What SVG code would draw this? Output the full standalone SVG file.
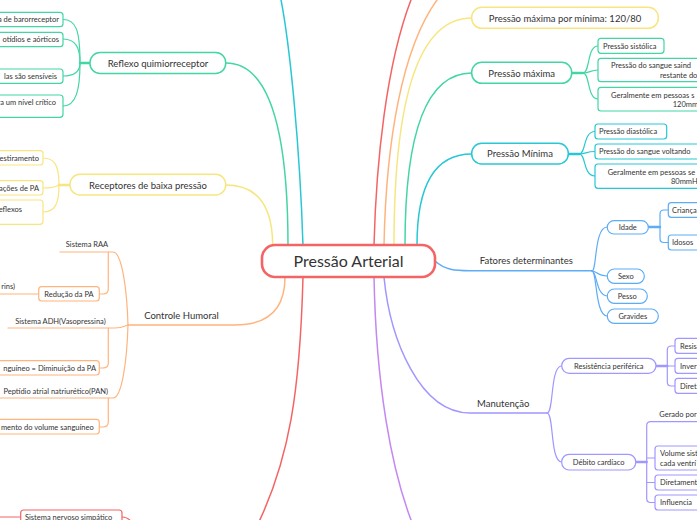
<svg xmlns="http://www.w3.org/2000/svg" width="697" height="520" viewBox="0 0 697 520">
<style>
text{font-family:Lato,"Noto Sans",sans-serif;fill:#333}
.c{font-size:16px;text-anchor:middle}
.m{font-size:9.5px;text-anchor:middle}
.s{font-size:7.5px}
.sm{font-size:7.5px;text-anchor:middle}
.se{font-size:7.5px;text-anchor:end}
.n{fill:#fff}
.l{fill:none;stroke-linecap:round}
.red{stroke:#f46464}.grn{stroke:#43d6a4}.yel{stroke:#f7e680}.org{stroke:#ffb47e}.cya{stroke:#27c7d5}.blu{stroke:#5eacf6}.vio{stroke:#a097ff}.pur{stroke:#c488f0}
.w1{stroke-width:1.5}.w2{stroke-width:1.2}.w3{stroke-width:2.4}
</style>
<rect width="697" height="520" fill="#fff"/>
<g id="connectors">
<path class="l grn w1" d="M288,246 Q288,63 226,63"/>
<path class="l yel w1" d="M272.7,246 Q272.7,185 226,185"/>
<path class="l cya w1" d="M303,246 C300,150 290,40 279,-10"/>
<path class="l org w1" d="M285,277 Q285,325 235,325 L128,325"/>
<path class="l red w1" d="M303,277 C300,390 290,460 255,530"/>
<path class="l red w1" d="M374,245 C376,170 385,60 415,-10"/>
<path class="l org w1" d="M384,245 C386,150 400,40 445,-10"/>
<path class="l yel w1" d="M394,245 Q394,18 471.7,18"/>
<path class="l grn w1" d="M405,245 Q405,73 471.7,73"/>
<path class="l cya w1" d="M417,245 Q417,154 471.7,154"/>
<path class="l blu w1" d="M435,261 C445,270 455,270.7 470,270.7 L592,270.7"/>
<path class="l vio w1" d="M384,277 C390,340 420,413 470,413 L547,413"/>
<path class="l pur w1" d="M374,277 C376,380 390,470 415,530"/>
<path class="l grn w3" d="M80,63 L90,63"/>
<path class="l grn w2" d="M80,63 C80,30 76,19.5 63,19.5"/>
<path class="l grn w2" d="M80,63 C80,48 76,39 63,39"/>
<path class="l grn w2" d="M80,63 C80,70 76,76 63,76"/>
<path class="l grn w2" d="M80,63 C80,90 76,106 63,106"/>
<path class="l yel w3" d="M59,185 L70,185"/>
<path class="l yel w2" d="M59,185 C59,166 55,158 43,158"/>
<path class="l yel w2" d="M59,185 C56,187 50,188 43,188"/>
<path class="l yel w2" d="M59,185 C59,204 55,212 43,212"/>
<path class="l org w2" d="M60,252 L113,252 C122,252 127,290 128,325"/>
<path class="l org w2" d="M8,328 L115,328 C122,328 125,326 128,325"/>
<path class="l org w2" d="M-5,398 L113,398 C122,398 127,360 128,325"/>
<path class="l org w2" d="M108.3,252 L108.3,289 Q108.3,294 103,294 L99.3,294"/>
<path class="l org w2" d="M-5,294 L38.7,294"/>
<path class="l org w2" d="M108.3,328 L108.3,363 Q108.3,368 103,368 L99.3,368"/>
<path class="l org w2" d="M108.3,398 L108.3,422 Q108.3,427 103,427 L99.3,427"/>
<path class="l red w2" d="M-5,517 L20.7,517"/>
<path class="l red w2" d="M122,517 C127,517 130,519 133,524"/>
<path class="l grn w3" d="M571.7,73 L583,73"/>
<path class="l grn w2" d="M583,73 C590,73 587,46 598,46"/>
<path class="l grn w2" d="M583,73 C590,73 590,70 598,70"/>
<path class="l grn w2" d="M583,73 C590,73 587,99 598,99"/>
<path class="l cya w3" d="M568.3,154 L579.3,154"/>
<path class="l cya w2" d="M579.3,154 C586,154 583,131.5 595,131.5"/>
<path class="l cya w2" d="M579.3,154 C586,154 586,151.5 595,151.5"/>
<path class="l cya w2" d="M579.3,154 C586,154 583,176 595,176"/>
<path class="l blu w2" d="M592,271 C597,271 594,227 607.3,227"/>
<path class="l blu w2" d="M592,271 C597,271 597,276 607.3,276"/>
<path class="l blu w2" d="M592,271 C597,271 596,296 607.3,296"/>
<path class="l blu w2" d="M592,271 C597,271 595,316 607.3,316"/>
<path class="l blu w3" d="M648.3,227 L660,227"/>
<path class="l blu w2" d="M660,227 L660,214 Q660,210 664,210 L668.3,210 M660,227 L660,238.5 Q660,242.5 664,242.5 L668.3,242.5"/>
<path class="l vio w2" d="M547,413 C554,413 550,366 561.7,366"/>
<path class="l vio w2" d="M547,413 C554,413 550,462 561.7,462"/>
<path class="l vio w3" d="M656,366 L667.3,366"/>
<path class="l vio w2" d="M675,346 L671.3,346 Q667.3,346 667.3,350 L667.3,382 Q667.3,386 671.3,386 L675,386 M667.3,366 L675,366"/>
<path class="l vio w3" d="M635.7,462 L646.7,462"/>
<path class="l vio w2" d="M700,421.7 L650.7,421.7 Q646.7,421.7 646.7,425.7 L646.7,498.5 Q646.7,502.5 650.7,502.5 L655,502.5 M646.7,458 L655,458 M646.7,482.5 L655,482.5"/>
</g>
<g id="center"><rect class="n red" x="262" y="245" width="173" height="32" rx="13" stroke-width="2.6"/><text class="c" x="348.5" y="266.5">Pressão Arterial</text></g>
<g id="reflexo"><rect class="n grn w1" x="90" y="52.5" width="135.7" height="21" rx="10"/><text class="m" x="158" y="66.5">Reflexo quimiorreceptor</text></g>
<g id="reflexo-1"><rect class="n grn w2" x="-10" y="12.3" width="73" height="14.4" rx="3"/><text class="se" x="59" y="22.2">a de barorreceptor</text></g>
<g id="reflexo-2"><rect class="n grn w2" x="-10" y="32.3" width="73" height="14.4" rx="3"/><text class="se" x="59" y="42.2">otídios e aórticos</text></g>
<g id="reflexo-3"><rect class="n grn w2" x="-10" y="69" width="73" height="14.3" rx="3"/><text class="se" x="57" y="79">las são sensíveis</text></g>
<g id="reflexo-4"><rect class="n grn w2" x="-10" y="95" width="73" height="22.3" rx="3"/><text class="se" x="56" y="105">ra um nível crítico</text></g>
<g id="receptores"><rect class="n yel w1" x="70" y="174.3" width="155.7" height="20.7" rx="10"/><text class="m" x="148" y="188.5">Receptores de baixa pressão</text></g>
<g id="receptores-1"><rect class="n yel w2" x="-10" y="150.7" width="53" height="14.3" rx="3"/><text class="se" x="39" y="160.7">estiramento</text></g>
<g id="receptores-2"><rect class="n yel w2" x="-10" y="180.7" width="53" height="14.3" rx="3"/><text class="se" x="39" y="190.7">ações de PA</text></g>
<g id="receptores-3"><rect class="n yel w2" x="-10" y="200" width="53" height="24.3" rx="3"/><text class="se" x="22" y="211.7">eflexos</text></g>
<g id="controle"><text class="m" x="181.5" y="318.5">Controle Humoral</text></g>
<g id="raa"><text class="sm" x="87" y="246.5">Sistema RAA</text></g>
<g id="rins"><text class="se" x="15" y="288.5">rins)</text></g>
<g id="reducao"><rect class="n org w2" x="38.7" y="286.7" width="60.6" height="14.3" rx="3"/><text class="sm" x="69" y="296.7">Redução da PA</text></g>
<g id="adh"><text class="sm" x="60.5" y="324">Sistema ADH(Vasopressina)</text></g>
<g id="adh-1"><rect class="n org w2" x="-10" y="360.7" width="109.3" height="14.3" rx="3"/><text class="se" x="96" y="370.7">nguíneo = Diminuição da PA</text></g>
<g id="pan"><text class="se" x="108" y="394.3">Peptídio atrial natriurético(PAN)</text></g>
<g id="pan-1"><rect class="n org w2" x="-10" y="419.3" width="109.3" height="14.7" rx="3"/><text class="se" x="93.7" y="429.5">mento do volume sanguíneo</text></g>
<g id="simpatico"><rect class="n red w2" x="20.7" y="510" width="101.3" height="16" rx="3"/><text class="s" x="25" y="519.5">Sistema nervoso simpático</text></g>
<g id="maxmin"><rect class="n yel w1" x="471.7" y="7.3" width="186.6" height="21" rx="10"/><text class="m" x="565" y="21.5">Pressão máxima por mínima: 120/80</text></g>
<g id="maxima"><rect class="n grn w1" x="471.7" y="62.3" width="100" height="21" rx="10"/><text class="m" x="521.7" y="76.5">Pressão máxima</text></g>
<g id="maxima-1"><rect class="n grn w2" x="598" y="38.3" width="66" height="15" rx="3"/><text class="s" x="603" y="48.6">Pressão sistólica</text></g>
<g id="maxima-2"><rect class="n grn w2" x="598" y="58.3" width="120" height="23.4" rx="3"/><text class="s" x="611" y="68.4">Pressão do sangue saind</text><text class="s" x="660" y="77.9">restante do</text></g>
<g id="maxima-3"><rect class="n grn w2" x="598" y="87.3" width="120" height="23.7" rx="3"/><text class="s" x="611" y="97.6">Geralmente em pessoas s</text><text class="s" x="672.7" y="107.1">120mm</text></g>
<g id="minima"><rect class="n cya w1" x="471.7" y="143.3" width="96.6" height="20.7" rx="10"/><text class="m" x="520" y="157.3">Pressão Mínima</text></g>
<g id="minima-1"><rect class="n cya w2" x="595" y="124" width="71.7" height="15" rx="3"/><text class="s" x="599" y="134.3">Pressão diastólica</text></g>
<g id="minima-2"><rect class="n cya w2" x="595" y="144" width="120" height="15" rx="3"/><text class="s" x="599" y="154.3">Pressão do sangue voltando</text></g>
<g id="minima-3"><rect class="n cya w2" x="595" y="164" width="120" height="24.3" rx="3"/><text class="s" x="607.7" y="174.6">Geralmente em pessoas se</text><text class="s" x="671" y="183.9">80mmH</text></g>
<g id="fatores"><text class="m" x="526.3" y="264.3">Fatores determinantes</text></g>
<g id="idade"><rect class="n blu w2" x="607.3" y="220.7" width="41" height="13.3" rx="6.6"/><text class="sm" x="627.8" y="230.1">Idade</text></g>
<g id="crianca"><rect class="n blu w2" x="668.3" y="202.7" width="40" height="14.6" rx="3"/><text class="s" x="672" y="212.8">Criança</text></g>
<g id="idosos"><rect class="n blu w2" x="668.3" y="235" width="40" height="15" rx="3"/><text class="s" x="672" y="245.3">Idosos</text></g>
<g id="sexo"><rect class="n blu w2" x="607.3" y="269" width="37" height="14.3" rx="7"/><text class="sm" x="625.8" y="278.9">Sexo</text></g>
<g id="pesso"><rect class="n blu w2" x="607.3" y="289" width="40" height="14.3" rx="7"/><text class="sm" x="627.3" y="298.9">Pesso</text></g>
<g id="gravides"><rect class="n blu w2" x="607.3" y="309" width="51" height="14.3" rx="7"/><text class="sm" x="632.8" y="318.9">Gravides</text></g>
<g id="manutencao"><text class="m" x="503.3" y="407">Manutenção</text></g>
<g id="resistencia"><rect class="n vio w2" x="561.7" y="358.3" width="94.3" height="15" rx="7.5"/><text class="sm" x="608.8" y="368.6">Resistência periférica</text></g>
<g id="res-1"><rect class="n vio w2" x="675" y="338.3" width="40" height="15" rx="3"/><text class="s" x="680" y="348.6">Resis</text></g>
<g id="res-2"><rect class="n vio w2" x="675" y="358.3" width="40" height="15" rx="3"/><text class="s" x="680" y="368.6">Inver</text></g>
<g id="res-3"><rect class="n vio w2" x="675" y="378.3" width="40" height="15" rx="3"/><text class="s" x="680" y="388.6">Diret</text></g>
<g id="debito"><rect class="n vio w2" x="561.7" y="454.3" width="74" height="15.7" rx="7.5"/><text class="sm" x="598.7" y="464.9">Débito cardíaco</text></g>
<g id="gerado"><text class="s" x="659.3" y="416.9">Gerado por</text></g>
<g id="volume"><rect class="n vio w2" x="655" y="446" width="60" height="24" rx="3"/><text class="s" x="660" y="456.1">Volume sist</text><text class="s" x="660" y="465.6">cada ventrí</text></g>
<g id="diretamente"><rect class="n vio w2" x="655" y="475" width="60" height="15" rx="3"/><text class="s" x="660" y="485.3">Diretament</text></g>
<g id="influencia"><rect class="n vio w2" x="655" y="495" width="60" height="15" rx="3"/><text class="s" x="660" y="505.3">Influencia</text></g>
</svg>
